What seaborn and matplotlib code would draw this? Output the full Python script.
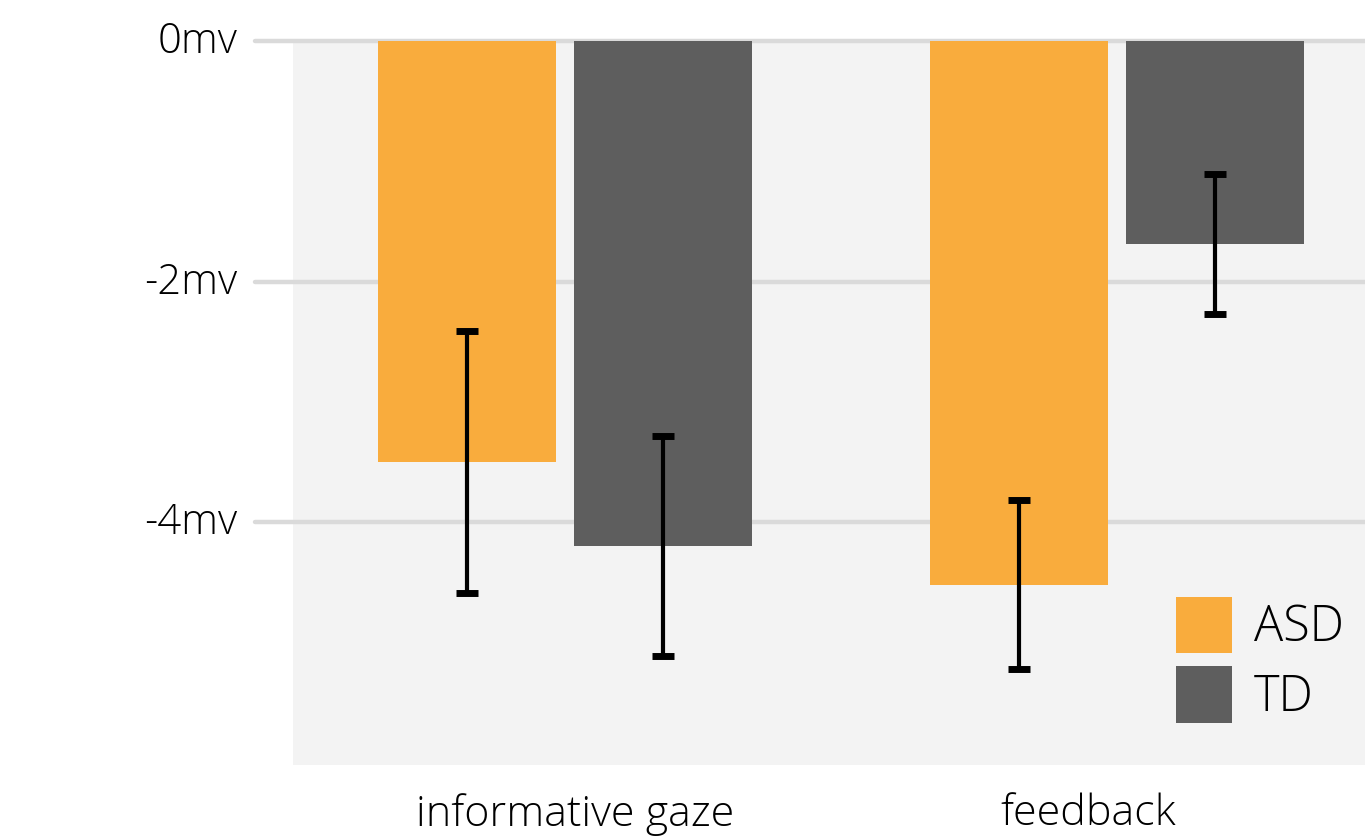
import matplotlib
matplotlib.use("Agg")
import matplotlib.pyplot as plt
import matplotlib.transforms as mtransforms
import seaborn as sns
import pandas as pd

# Mean ERP amplitudes (mV) and their error half-widths
conditions = ["informative gaze", "feedback"]
groups = ["ASD", "TD"]
asd_mean = [-3.50, -4.52]
asd_err = [1.09, 0.70]
td_mean = [-4.20, -1.69]
td_err = [0.915, 0.58]
yticks = [0, -2, -4]
ytick_labels = ["0mv", "-2mv", "-4mv"]

colors = {"ASD": "#f9ac3d", "TD": "#5e5e5e"}

df = pd.DataFrame({
    "condition": conditions * 2,
    "group": ["ASD"] * 2 + ["TD"] * 2,
    "amplitude": asd_mean + td_mean,
    "err": asd_err + td_err,
})

sns.set_theme(style="white")
plt.rcParams["font.family"] = ["Open Sans", "DejaVu Sans"]
plt.rcParams["font.weight"] = "light"

fig = plt.figure(figsize=(13.65, 8.38), dpi=100)
ax = fig.add_axes([293 / 1365, 1 - 765 / 838, 1072 / 1365, 724 / 838])
ax.set_facecolor("#f3f3f3")

sns.barplot(data=df, x="condition", y="amplitude", hue="group",
            order=conditions, hue_order=groups, palette=colors,
            errorbar=None, width=0.71, gap=0.095, saturation=1,
            linewidth=0, edgecolor="none", ax=ax, zorder=3)

# error bars centred on each drawn bar
for cont, grp in zip(ax.containers, groups):
    sub = df[df["group"] == grp].set_index("condition").loc[conditions]
    xs = [p.get_x() + p.get_width() / 2 for p in cont.patches]
    ax.errorbar(xs, sub["amplitude"], yerr=sub["err"], fmt="none",
                ecolor="black", elinewidth=3, capsize=8, capthick=5,
                zorder=4)

ax.set_ylim(-6.02, 0)
ax.set_xlim(-0.493, 1.449)

# horizontal guides reaching a little past the left edge
ext = 38 / 1072
for y in yticks:
    ax.axhline(y, xmin=-ext, xmax=1, color="#dadada", lw=3.2,
               zorder=1, clip_on=False)

ax.set_yticks(yticks)
ax.set_yticklabels(ytick_labels)
ax.tick_params(axis="y", length=0, pad=40, labelsize=30, colors="black")
ax.tick_params(axis="x", length=0, pad=20, labelsize=31, colors="black")
ax.set_xlabel("")
ax.set_ylabel("")
for s in ax.spines.values():
    s.set_visible(False)

# fine placement of the tick labels
x_shift = [10, -29]
for lab, dx in zip(ax.get_xticklabels(), x_shift):
    lab.set_fontweight("light")
    lab.set_transform(lab.get_transform() + mtransforms.ScaledTranslation(
        dx / 100, 0, fig.dpi_scale_trans))
for lab in ax.get_yticklabels():
    lab.set_fontweight("light")
    lab.set_transform(lab.get_transform() + mtransforms.ScaledTranslation(
        0, 4 / 100, fig.dpi_scale_trans))

handles, labels = ax.get_legend_handles_labels()
leg = ax.legend(handles, labels, loc="lower right", frameon=False,
                prop={"size": 35, "weight": "light"}, labelcolor="black",
                handlelength=1.15, handleheight=1.4, handletextpad=0.45,
                labelspacing=0.27, borderaxespad=0.1,
                bbox_to_anchor=(1.0 + 3 / 1072, 18 / 724))

fig.savefig("out.png", dpi=100)
